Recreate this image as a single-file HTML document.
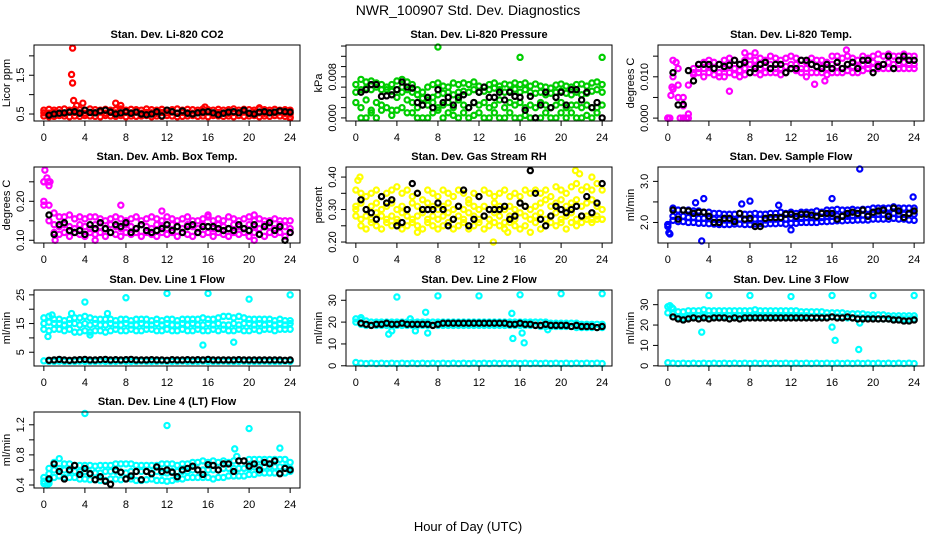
<!DOCTYPE html>
<html><head><meta charset="utf-8"><title>NWR_100907 Std. Dev. Diagnostics</title>
<style>
html,body{margin:0;padding:0;background:#fff;}
svg{display:block;font-family:"Liberation Sans",Arial,sans-serif;}
</style></head>
<body>
<svg id="chart" width="936" height="540" viewBox="0 0 936 540" xmlns="http://www.w3.org/2000/svg">
<rect x="0" y="0" width="936" height="540" fill="#fff"/>
<text x="468" y="15" text-anchor="middle" font-size="14">NWR_100907  Std. Dev. Diagnostics</text>
<text x="468" y="531" text-anchor="middle" font-size="13">Hour of Day (UTC)</text>
</svg>
<script>
const hours=[0,0.5,1,1.5,2,2.5,3,3.5,4,4.5,5,5.5,6,6.5,7,7.5,8,8.5,9,9.5,10,10.5,11,11.5,12,12.5,13,13.5,14,14.5,15,15.5,16,16.5,17,17.5,18,18.5,19,19.5,20,20.5,21,21.5,22,22.5,23,23.5,24];
const xTicks=[0,4,8,12,16,20,24];

// Panel 1: CO2
const co2A=[.45,.43,.44,.46,.45,.43,.45,.44,.46,.45,.44,.43,.46,.45,.44,.46,.43,.45,.44,.45,.46,.43,.45,.44,.46,.45,.43,.44,.45,.46,.44,.45,.43,.46,.45,.44,.45,.43,.46,.44,.45,.46,.43,.45,.44,.46,.45,.44,.42];
const co2B=[.53,.52,.54,.53,.52,.55,.54,.53,.52,.54,.53,.55,.52,.54,.53,.52,.54,.53,.55,.52,.54,.53,.52,.54,.53,.55,.52,.54,.53,.52,.54,.53,.55,.52,.54,.53,.52,.54,.53,.55,.52,.54,.53,.52,.54,.53,.55,.52,.5];
const co2C=[.6,.62,.6,.61,.63,.6,.62,.61,.6,.63,.61,.6,.62,.6,.61,.63,.6,.62,.61,.6,.63,.61,.6,.62,.6,.61,.63,.6,.62,.61,.6,.63,.61,.6,.62,.6,.61,.63,.6,.62,.61,.6,.63,.61,.6,.62,.6,.61,.6];
const co2OutX=[2.8,2.7,2.8,2.9,3.8,7,7.5,3.2,24,15.7,21];
const co2OutY=[2.2,1.52,1.3,.85,.78,.78,.72,.72,.4,.68,.66];
const co2Black=[null,.47,.5,.52,.53,.55,.56,.52,.6,.54,.53,.58,.6,.55,.5,.53,.56,.52,.55,.5,.48,.5,.56,.45,.6,.56,.52,.58,.52,.5,.53,.55,.56,.53,.48,.52,.55,.56,.53,.6,.52,.5,.55,.56,.53,.55,.58,.56,.55];
const co2Ticks=[0.5,1,1.5,2];
const co2Labels=["0.5","","1.5",""];

// Panel 2: Pressure (values in units of 0.001 kPa)
const prA=[6.5,7.5,7,7.2,6.8,6.5,6,6.5,7.2,7.5,7,6.5,5.5,5,6,6.5,6.8,6.2,6,6.8,6.5,6.8,6.5,7,6.2,6,6.5,6.8,6.2,6.6,6.4,6.8,6.5,6.8,6.2,6.6,6.2,6,5.8,6.4,6.6,6.2,6,6.5,6.6,6.2,6.8,7,6.5];
const prB=[5,5.5,5.8,5.5,6,5.5,5.5,5.2,5.5,6,5.5,5,4.5,3.8,3.5,4,4.5,4.8,5,4.5,5,5.2,5,5.5,5,5.2,5.5,5.8,5.5,5,5.2,5.6,5,5.5,5,4.8,5,4.5,4.8,5,5.2,4.8,4.5,5,4.5,4.8,5.2,5.5,5];
const prC=[3,2,3.5,1.5,3,2.5,2,1.5,4,5,3.5,3,2,2.5,2.5,3,2,2.5,3,2,3.5,2.5,2,3,2.5,3,2,2.5,3.5,2,3,2.5,3,2,2.5,2,3,2.5,2,2.5,3,2,2.5,2.5,2,2.5,2,2,2.5];
const prD=[null,0,0,1,0,1.5,null,0.5,1.5,2,1,1,0,0,0,1,1.5,0,1,0.5,0,1,0,0.5,1,0,0,1,0,0,1,0,0,0.5,0,0,0,1,0,0,1,0,1,0,0,0.5,0,1,null];
const prOutX=[8,16,24];
const prOutY=[13.8,11.8,11.8];
const prBlack=[null,5,5.5,6.5,6.5,4.2,4.3,4.5,5.5,7,6,5.8,3,2.5,4,2,5.5,3,4,2.5,4,4.5,2,3,5,6,4,4,5,3.5,5,4.2,4,1.5,4.2,0,2.5,5,2,4,5,2.5,5.5,5.5,3.5,5,2,3,0];
const prTicks=[0,2,4,6,8,10,12,14];
const prLabels=["0.000","","","","0.008","","",""];

// Panel 3: Li-820 temp (units of 0.001 C)
const tpA=[0,14,12,3,0,12,13,13.5,14,13.5,13,14,14.5,14,13,14,15,14,14.5,14,15,14.5,14,14.5,15,14.5,14,13.5,14.5,14,14,13.5,15,15,14.5,15,14.5,14,15,14.5,15,15.5,15,15.5,15,15,15.5,15,15];
const tpB=[0,10,8,5,1,11,12,12,12.5,12,11,12,13,12,11.5,12,13,12.5,12,12.5,13,12,12,12.5,13,13,12,12,13,12.5,12.5,12,13,12.5,12,13,12.5,12.5,13,13,13.5,13,13,13.5,13,13,13.5,13,13];
const tpC=[0,7,5,3,8,10.5,11,10,11,10.5,10,10,11,10.5,10,10.5,11,11,10.5,11,11,11,10.5,11,12,11.5,11,10,11,11,11,10.5,11,11,11,11.5,11,11,11.5,12,12,12,12,12,12,12,12,12,12];
const tpOutX=[0.1,0.2,1.2,1.5,1.8,0.3,0.4,0.8,6,14.3,15.3,17.4,8.5,7.5];
const tpOutY=[0,0,0,0,0,5.5,7.5,13.5,6.5,8.2,9,16.5,15.8,15.8];
const tpBlack=[null,11,3.2,3.3,11.5,9,13,13,13,12,13,12.5,12.8,14,13,13.5,11,12,13,13.5,12,13,13,11,12,12,14,14,13,12.5,12,13,12,13.5,12,13,13.5,12,14,14,11,12.5,13,15,12,14,15,14,14];
const tpTicks=[0,5,10,15];
const tpLabels=["0.000","","0.010",""];

// Panel 4: Amb box temp
const abA=[.25,.24,.17,.16,.16,.165,.155,.16,.155,.16,.16,.155,.15,.155,.16,.155,.15,.155,.16,.15,.155,.16,.155,.15,.16,.155,.15,.155,.16,.15,.15,.155,.16,.15,.155,.15,.16,.155,.15,.155,.16,.15,.155,.15,.15,.155,.15,.15,.15];
const abB=[.2,.19,.14,.135,.14,.135,.13,.14,.135,.13,.14,.135,.13,.14,.135,.13,.14,.135,.13,.14,.135,.13,.14,.135,.13,.14,.135,.13,.14,.135,.13,.14,.135,.13,.14,.135,.13,.14,.135,.13,.14,.135,.13,.14,.135,.13,.14,.135,.13];
const abC=[.19,.15,.12,.115,.12,.11,.12,.115,.11,.12,.115,.12,.11,.12,.115,.11,.12,.115,.12,.11,.12,.115,.11,.12,.115,.12,.11,.12,.115,.11,.12,.115,.12,.11,.12,.115,.11,.12,.115,.12,.11,.12,.115,.11,.12,.115,.12,.11,.12];
const abOutX=[0.1,0,0.3,7.5,11.5,5,20.5,16,20.5,1.1,0.4,0.6];
const abOutY=[.28,.25,.26,.19,.175,.1,.1,.165,.165,.1,.25,.25];
const abBlack=[null,.165,.115,.14,.145,.125,.12,.125,.115,.14,.13,.145,.13,.12,.14,.135,.145,.12,.13,.14,.125,.12,.125,.13,.14,.125,.135,.12,.135,.14,.12,.135,.135,.135,.13,.125,.13,.125,.14,.13,.125,.14,.115,.135,.145,.125,.135,.1,.12];
const abTicks=[0.10,0.15,0.20,0.25];
const abLabels=["0.10","","0.20",""];

// Panel 5: Gas stream RH
const rhA=[.36,.35,.34,.35,.36,.34,.35,.36,.37,.35,.36,.34,.35,.33,.36,.35,.34,.36,.35,.34,.36,.35,.33,.35,.34,.36,.35,.34,.35,.36,.34,.35,.34,.36,.35,.36,.35,.36,.34,.37,.36,.35,.37,.38,.36,.37,.36,.38,.36];
const rhB=[.31,.32,.3,.31,.32,.3,.31,.32,.3,.31,.3,.32,.31,.3,.32,.31,.3,.31,.32,.3,.31,.3,.32,.31,.3,.31,.3,.32,.31,.3,.31,.3,.32,.31,.3,.31,.32,.33,.31,.32,.33,.31,.32,.33,.31,.32,.33,.31,.3];
const rhC=[.28,.27,.28,.27,.29,.28,.27,.28,.27,.29,.28,.27,.28,.29,.27,.28,.27,.28,.29,.27,.28,.27,.29,.28,.27,.28,.27,.29,.28,.26,.28,.27,.29,.28,.27,.28,.29,.27,.28,.29,.27,.28,.29,.27,.28,.28,.27,.28,.27];
const rhD=[.3,.25,.24,.26,.25,.24,.26,.25,.26,.24,.25,.26,.25,.24,.26,.25,.24,.25,.26,.24,.25,.26,.24,.25,.26,.24,.25,.26,.25,.24,.26,.25,.24,.25,.23,.26,.24,.25,.26,.25,.26,.24,.26,.25,.26,.27,.26,.27,.27];
const rhOutX=[0.4,0.2,13.4,21.4,21.8,23,6,14.8];
const rhOutY=[.4,.39,.2,.42,.41,.4,.23,.23];
const rhBlack=[null,.33,.3,.29,.27,.34,.32,.33,.25,.26,.3,.38,.35,.3,.3,.3,.32,.3,.25,.27,.31,.36,.25,.27,.34,.28,.3,.3,.3,.31,.27,.28,.32,.31,.42,.35,.27,.25,.28,.31,.3,.29,.3,.31,.28,.34,.29,.32,.38];
const rhTicks=[0.20,0.25,0.30,0.35,0.40];
const rhLabels=["0.20","","0.30","","0.40"];

// Panel 6: Sample flow
const sfA=[1.95,2.35,2.3,2.3,2.3,2.28,2.28,2.25,2.25,2.22,2.22,2.2,2.2,2.2,2.22,2.2,2.2,2.22,2.2,2.2,2.22,2.22,2.25,2.22,2.25,2.22,2.25,2.25,2.25,2.28,2.25,2.3,2.3,2.32,2.3,2.3,2.32,2.3,2.32,2.32,2.35,2.35,2.35,2.35,2.38,2.35,2.35,2.35,2.35];
const sfB=[1.9,2.15,2.15,2.15,2.12,2.12,2.1,2.1,2.1,2.08,2.08,2.06,2.06,2.06,2.08,2.06,2.06,2.08,2.08,2.06,2.08,2.08,2.1,2.08,2.1,2.1,2.1,2.12,2.12,2.12,2.12,2.15,2.15,2.16,2.15,2.15,2.16,2.18,2.18,2.18,2.2,2.2,2.2,2.2,2.22,2.2,2.2,2.2,2.2];
const sfC=[1.95,2.05,2.02,2.02,2,2,1.98,1.98,1.97,1.96,1.95,1.95,1.95,1.96,1.96,1.95,1.95,1.96,1.97,1.96,1.97,1.97,1.98,1.96,1.98,1.98,2,2,2,2,2.02,2.02,2.03,2.04,2.04,2.05,2.05,2.06,2.06,2.06,2.08,2.08,2.08,2.08,2.1,2.08,2.08,2.06,2.05];
const sfOutX=[0.1,0.2,3.3,18.7,23.9,3.5,8,16,2.7,12,7.2,10.8];
const sfOutY=[1.75,1.72,1.55,3.3,2.62,2.58,2.52,2.58,2.48,1.82,2.45,2.42];
const sfBlack=[null,2.3,2.08,2.3,2.28,2.22,2.25,2.25,2.15,2.0,2.0,2.1,2.1,2.02,2.22,2.08,2.1,1.9,1.9,2.1,2.12,2.12,2.12,2.2,2.2,2.15,2.2,2.2,2.18,2.15,2.22,2.22,2.22,2.08,2.15,2.22,2.25,2.22,2.3,2.15,2.25,2.28,2.3,2.15,2.35,2.28,2.12,2.22,2.28];
const sfTicks=[2.0,2.5,3.0];
const sfLabels=["2.0","","3.0"];

// Panel 7: Line 1 flow
const l1A=[17,17.5,16.5,16.5,16,16.5,17,17,17.5,17,16.5,16.5,16.5,16.5,16,16.5,16.5,16,16.5,16.5,16.5,16,16.5,16,16.5,16.5,16,16.5,16.5,16.5,16.5,17,16.5,16.5,17,17.5,17.5,17,17.5,17,16.5,16.5,16.5,16.5,16.5,16,16.5,16,16];
const l1B=[15,15.5,15,15,14.5,15,15,14.5,15,14.5,15,14.5,14.5,15,14.5,14.5,15,14.5,14.5,15,14.5,14.5,15,14.5,15,14.5,14.5,15,14.5,15,14.5,14.5,15,14.5,15,14.5,14.5,15,14.5,15,15,14.5,15,14.5,15,14.5,15,14.5,15];
const l1C=[13,12.5,13,13,12.5,13,12,12,12.5,12,12.5,12.5,12,12.5,13,12.5,12.5,13,12.5,12.5,13,13,12.5,12.5,13,12.5,12.5,13,12.5,12.5,13,12.5,12.5,13,12.5,13,12.5,12.5,13,12.5,12.5,13,12.5,13,13,12.5,13,13,13];
const l1D=[2,1.8,1.8,1.9,1.8,1.8,1.8,1.9,1.8,1.8,1.8,1.9,1.8,1.8,1.8,1.9,1.8,1.8,1.8,1.9,1.8,1.8,1.8,1.9,1.8,1.8,1.8,1.9,1.8,1.8,1.8,1.9,1.8,1.8,1.8,1.9,1.8,1.8,1.8,1.9,1.8,1.8,1.8,1.9,1.8,1.8,1.8,1.9,1.8];
const l1OutX=[4,8,12,16,20,24,15.5,18.5,0.4,4.5,2.7,6.2,0.8];
const l1OutY=[22.5,24,25.5,25.5,23.5,25,7.5,8.5,10.5,11,18.5,18.5,18];
const l1Black=[null,2.2,2.3,2.5,2.3,2.2,2.3,2.4,2.5,2.3,2.3,2.4,2.5,2.3,2.4,2.3,2.4,2.5,2.3,2.3,2.3,2.4,2.3,2.3,2.2,2.4,2.3,2.3,2.4,2.3,2.4,2.3,2.5,2.3,2.3,2.3,2.3,2.3,2.4,2.3,2.3,2.3,2.3,2.3,2.3,2.3,2.3,2.2,2.3];
const l1Ticks=[5,10,15,20,25];
const l1Labels=["5","","15","","25"];

// Panel 8: Line 2 flow
const l2A=[21.5,21,20.5,20,20,20,20,20,20,20,20,20,20,20,20,20,20,20,20,20,20,20,20,20,20,20,20,20,20,20,20,20,20,20,20,20,20,20,19.5,19.5,19.5,19.5,19.5,19.5,19,19,19,19,19];
const l2B=[20,19,18.5,18.5,18.5,18.5,18.5,18.5,18.5,18.5,18.5,18.5,18.5,18.5,18.5,18.5,18.5,18.5,18.5,18.5,18.5,18.5,18.5,18.5,18.5,18.5,18.5,18.5,18.5,18.5,18.5,18.5,18.5,18.5,18.5,18.5,18,18,18,18,18,18,18,17.5,17.5,17.5,17.5,17.5,17.5];
const l2D=[1.5,1.2,1,1.2,1,1.2,1,1.2,1,1.2,1,1.2,1,1.2,1,1.2,1,1.2,1,1.2,1,1.2,1,1.2,1,1.2,1,1.2,1,1.2,1,1.2,1,1.2,1,1.2,1,1.2,1,1.2,1,1.2,1,1.2,1,1.2,1,1.2,1];
const l2OutX=[4,8,12,16,20,24,6.8,15.2,15.3,16.2,16.4,3.2,5.8,7,18.7,5.3,0.5,3.5];
const l2OutY=[31.5,32,32,32.5,33,33,24.5,24,12.5,15,10.5,14.5,16,15,16.5,21.5,22,16];
const l2Black=[null,19.5,19,18.5,19,19,19.5,19,19,19.5,19,19,19,19,19,18.5,19,19.5,19.5,19.5,19.5,19.5,19.5,19.5,19.5,19.5,19.5,19.5,19.5,19.5,19,19,19.5,19,19,18.5,18.5,19,18.5,18.5,18.5,18.5,18,18.5,18,18,18,17.5,18];
const l2Ticks=[0,10,20,30];
const l2Labels=["0","10","20","30"];

// Panel 9: Line 3 flow
const l3A=[29,28,26.5,26.5,27,27,27,27.5,27,27,27,27,27,27,27,27,27,27.5,27,27,27,27,27,27,27,27,26.5,26.5,26.5,26.5,26.5,26,26,26,26,25.5,25.5,25.5,25.5,25,25,25,25,24.5,24.5,24.5,24.5,24.5,24.5];
const l3B=[26,25.5,24,23.5,24,24.5,24.5,24.5,24.5,24.5,24.5,24.5,24.5,24.5,24.5,24.5,24.5,24.5,24.5,24.5,24.5,24.5,24.5,24.5,24.5,24.5,24.5,24.5,24,24,24,24,24,24,24,23.5,23.5,23.5,23.5,23.5,23.5,23,23,23,23,23,23,23,23];
const l3D=[1.5,1.3,1.1,1.3,1.1,1.3,1.1,1.3,1.1,1.3,1.1,1.3,1.1,1.3,1.1,1.3,1.1,1.3,1.1,1.3,1.1,1.3,1.1,1.3,1.1,1.3,1.1,1.3,1.1,1.3,1.1,1.3,1.1,1.3,1.1,1.3,1.1,1.3,1.1,1.3,1.1,1.3,1.1,1.3,1.1,1.3,1.1,1.3,1.1];
const l3OutX=[4,8,12,16,20,24,3.3,16,16.3,18.6,18.7,0.2,0.4];
const l3OutY=[34.5,34.5,34,34.5,34.5,34.5,16.5,19,12.5,8,21,29.5,28.5];
const l3Black=[null,24,23,22.5,23,23.5,23,23.5,23,23.5,23.5,23.5,23,23.5,23,23.5,23.5,23.5,23.5,23.5,23.5,23.5,23.5,23.5,23.5,23.5,23.5,23.5,23.5,23.5,23.5,23.5,24,23.5,23.5,24,23.5,23,23,23,23,23,23,23,22.5,22.5,22,22,22.5];
const l3Ticks=[0,10,20,30];
const l3Labels=["0","10","20","30"];

// Panel 10: Line 4 (LT) flow
const l4A=[.5,.62,.7,.75,.68,.68,.66,.66,.66,.66,.65,.66,.66,.66,.68,.68,.68,.68,.66,.66,.66,.66,.66,.68,.68,.68,.66,.68,.68,.7,.7,.72,.7,.72,.7,.72,.7,.72,.72,.72,.74,.74,.74,.74,.74,.74,.74,.74,.7];
const l4B=[.45,.55,.6,.62,.6,.58,.58,.58,.58,.56,.56,.56,.58,.58,.58,.57,.56,.58,.58,.58,.58,.56,.58,.56,.56,.58,.58,.58,.58,.6,.6,.6,.6,.6,.6,.62,.62,.62,.62,.62,.62,.64,.64,.64,.64,.64,.64,.64,.62];
const l4C=[.42,.45,.5,.52,.5,.5,.5,.48,.48,.47,.47,.46,.46,.48,.48,.47,.48,.48,.46,.46,.47,.48,.46,.46,.45,.46,.48,.48,.5,.5,.5,.5,.5,.48,.5,.5,.52,.52,.52,.52,.54,.54,.56,.56,.56,.56,.56,.56,.58];
const l4OutX=[4,12,20,23,18.6,18.8,0.3,0.5];
const l4OutY=[1.35,1.19,1.15,.89,.88,.78,.4,.42];
const l4Black=[null,.48,.68,.58,.48,.6,.66,.54,.62,.55,.47,.51,.45,.41,.6,.57,.48,.52,.58,.47,.58,.55,.64,.58,.6,.57,.51,.6,.62,.65,.6,.54,.67,.66,.6,.68,.68,.58,.72,.72,.65,.68,.6,.7,.68,.72,.55,.62,.6];
const l4Ticks=[0.4,0.6,0.8,1.0,1.2];
const l4Labels=["0.4","","0.8","","1.2"];

const panels=[
 {name:"co2",title:"Stan. Dev. Li-820 CO2",ylab:"Licor ppm",color:"#ff0000",ymin:0.32,ymax:2.28,series:[co2A,co2B,co2C],ox:co2OutX,oy:co2OutY,black:co2Black,ticks:co2Ticks,labels:co2Labels},
 {name:"pressure",title:"Stan. Dev. Li-820 Pressure",ylab:"kPa",color:"#00cd00",ymin:-0.6,ymax:14.2,series:[prA,prB,prC,prD],ox:prOutX,oy:prOutY,black:prBlack,ticks:prTicks,labels:prLabels},
 {name:"temp",title:"Stan. Dev. Li-820 Temp.",ylab:"degrees C",color:"#ff00ff",ymin:-0.7,ymax:17.7,series:[tpA,tpB,tpC],ox:tpOutX,oy:tpOutY,black:tpBlack,ticks:tpTicks,labels:tpLabels},
 {name:"amb-box-temp",title:"Stan. Dev. Amb. Box Temp.",ylab:"degrees C",color:"#ff00ff",ymin:0.093,ymax:0.288,series:[abA,abB,abC],ox:abOutX,oy:abOutY,black:abBlack,ticks:abTicks,labels:abLabels},
 {name:"gas-rh",title:"Stan. Dev. Gas Stream RH",ylab:"percent",color:"#ffff00",ymin:0.197,ymax:0.431,series:[rhA,rhB,rhC,rhD],ox:rhOutX,oy:rhOutY,black:rhBlack,ticks:rhTicks,labels:rhLabels},
 {name:"sample-flow",title:"Stan. Dev. Sample Flow",ylab:"ml/min",color:"#0000ff",ymin:1.5,ymax:3.35,series:[sfA,sfB,sfC],ox:sfOutX,oy:sfOutY,black:sfBlack,ticks:sfTicks,labels:sfLabels},
 {name:"line1-flow",title:"Stan. Dev. Line 1 Flow",ylab:"ml/min",color:"#00ffff",ymin:0.2,ymax:26.7,series:[l1A,l1B,l1C,l1D],ox:l1OutX,oy:l1OutY,black:l1Black,ticks:l1Ticks,labels:l1Labels},
 {name:"line2-flow",title:"Stan. Dev. Line 2 Flow",ylab:"ml/min",color:"#00ffff",ymin:-0.1,ymax:34.7,series:[l2A,l2B,l2D],ox:l2OutX,oy:l2OutY,black:l2Black,ticks:l2Ticks,labels:l2Labels},
 {name:"line3-flow",title:"Stan. Dev. Line 3 Flow",ylab:"ml/min",color:"#00ffff",ymin:-0.1,ymax:37.2,series:[l3A,l3B,l3D],ox:l3OutX,oy:l3OutY,black:l3Black,ticks:l3Ticks,labels:l3Labels},
 {name:"line4-flow",title:"Stan. Dev. Line 4 (LT) Flow",ylab:"ml/min",color:"#00ffff",ymin:0.36,ymax:1.37,series:[l4A,l4B,l4C],ox:l4OutX,oy:l4OutY,black:l4Black,ticks:l4Ticks,labels:l4Labels}
];

const NS="http://www.w3.org/2000/svg";
const svg=document.getElementById('chart');
const colLeft=[34,346,658], rowTop=[45,167,290,412], BW=266, BH=76;
function mk(tag,attrs,parent){const e=document.createElementNS(NS,tag);for(const k in attrs)e.setAttribute(k,attrs[k]);parent.appendChild(e);return e;}

panels.forEach((p,idx)=>{
  const L=colLeft[idx%3], T=rowTop[Math.floor(idx/3)], R=L+BW, B=T+BH;
  const g=mk('g',{},svg);
  
  
  const pad=24*0.04, xmin=-pad, xmax=24+pad;
  const sx=v=>L+(v-xmin)/(xmax-xmin)*BW;
  const sy=v=>B-(v-p.ymin)/(p.ymax-p.ymin)*BH;
  const t=mk('text',{x:(L+R)/2,y:T-7,'text-anchor':'middle','font-size':11,'font-weight':'bold'},g);
  t.textContent=p.title;
  
  
  const yl=mk('text',{x:0,y:0,'text-anchor':'middle','font-size':11,transform:`translate(${L-24},${(T+B)/2}) rotate(-90)`},g);
  yl.textContent=p.ylab;
  
  
  const pts=mk('g',{fill:'none','stroke-width':2.2},g);
  
  
  p.series.forEach(arr=>{arr.forEach((v,i)=>{if(v===null)return;
    const c=mk('circle',{cx:sx(hours[i]),cy:sy(v),r:2.6,stroke:p.color},pts);
    
    
  });});
  p.ox.forEach((x,i)=>{
    const c=mk('circle',{cx:sx(x),cy:sy(p.oy[i]),r:2.6,stroke:p.color},pts);
    
    
  });
  p.black.forEach((v,i)=>{if(v===null)return;
    const c=mk('circle',{cx:sx(hours[i]),cy:sy(v),r:2.6,stroke:'#000'},pts);
    
    
  });
  const box=mk('rect',{x:L,y:T,width:BW,height:BH,fill:'none',stroke:'#000','stroke-width':1},g);
  
  
  xTicks.forEach(v=>{
    const x=sx(v);
    const tk=mk('line',{x1:x,x2:x,y1:B,y2:B+5,stroke:'#000'},g);
    
    
    const tl=mk('text',{x:x,y:B+20,'text-anchor':'middle','font-size':11},g);
    tl.textContent=String(v);
    
    
  });
  p.ticks.forEach((v,i)=>{
    const y=sy(v);
    const tk=mk('line',{x1:L-5,x2:L,y1:y,y2:y,stroke:'#000'},g);
    
    
    if(p.labels[i]){
      const tl=mk('text',{x:0,y:0,'text-anchor':'middle','font-size':11,transform:`translate(${L-10},${y}) rotate(-90)`},g);
      tl.textContent=p.labels[i];
      
      
    }
  });
});
</script>
</body></html>
